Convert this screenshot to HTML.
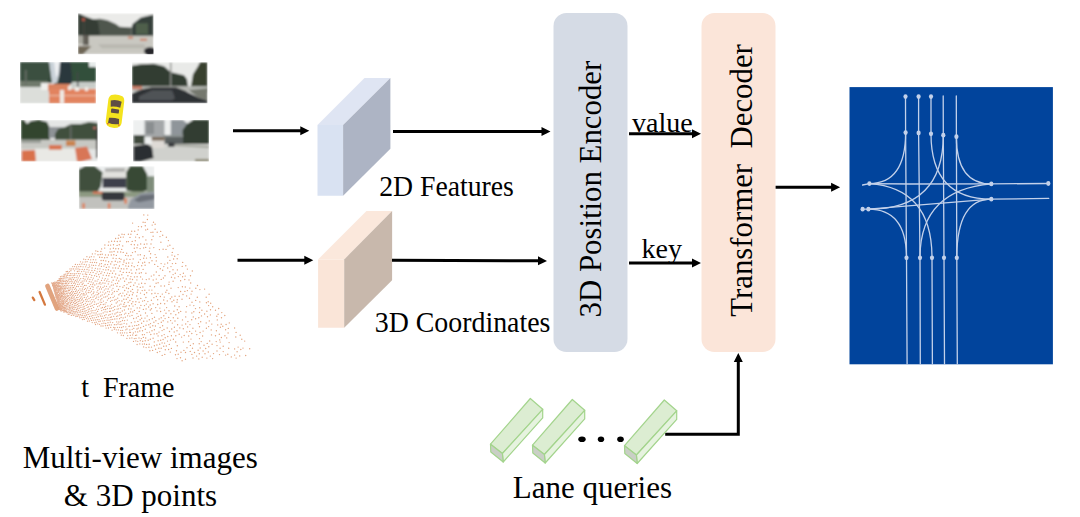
<!DOCTYPE html>
<html><head><meta charset="utf-8">
<style>
html,body{margin:0;padding:0;background:#fff;width:1080px;height:517px;overflow:hidden}
svg{position:absolute;left:0;top:0}
text{font-family:"Liberation Serif",serif;fill:#000}
</style></head><body>
<svg width="1080" height="517" viewBox="0 0 1080 517">
<defs>
<marker id="ah" viewBox="0 0 10 10" refX="9.3" refY="5" markerWidth="3.25" markerHeight="3.25" orient="auto" markerUnits="strokeWidth">
<path d="M0 0L10 5L0 10z" fill="#000"/></marker>
</defs>
<!-- photos -->
<g id="photos">
<filter id="bl" x="-5%" y="-5%" width="110%" height="110%"><feGaussianBlur stdDeviation="0.9"/></filter>
<clipPath id="c1"><rect width="75.5" height="41"/></clipPath>
<clipPath id="c2"><rect width="76" height="41.5"/></clipPath>
<clipPath id="c4"><rect width="76.7" height="41.5"/></clipPath>
<clipPath id="c6"><rect width="75.6" height="42.8"/></clipPath>
<!-- photo 1 top -->
<g transform="translate(78 13.2)" clip-path="url(#c1)"><g filter="url(#bl)">
<rect width="75.5" height="41" fill="#ebebe9"/>
<polygon points="0,0 7.2,3.2 14.7,6 22,5.6 29.5,7 37.9,10.7 41.6,13.5 53.6,14.4 53.6,23 0,23" fill="#50564e"/>
<polygon points="0,0 7.2,3.2 14.7,6 20,8 22,22 0,23" fill="#353d35"/>
<polygon points="53.6,14.4 54.6,10.7 62.9,4.2 75.5,1.4 75.5,24 53.6,24" fill="#34403a"/>
<rect x="58" y="10" width="12" height="11" fill="#66785a" opacity="0.55"/>
<rect x="0" y="22.5" width="75.5" height="18.5" fill="#c9c8c1"/>
<rect x="0" y="22.5" width="10" height="8" fill="#a8a79f"/>
<polygon points="0,33 13.5,33 5,41 0,41" fill="#6e6656"/>
<rect x="5.2" y="6" width="1.6" height="26" fill="#45443e"/>
<circle cx="5.5" cy="6.5" r="1.4" fill="#d05848"/>
<rect x="7.5" y="22" width="3" height="10" fill="#4e4840"/>
<rect x="50" y="23.5" width="5" height="2" fill="#d07050" opacity="0.8"/>
<rect x="62" y="25.5" width="7" height="2" fill="#d07050" opacity="0.8"/>
<ellipse cx="72" cy="38" rx="6" ry="4" fill="#25282b"/>
<polygon points="20,31 66,31 68,35 24,35" fill="#b9b8b1"/>
</g></g>
<!-- photo 2 left upper -->
<g transform="translate(20 62)" clip-path="url(#c2)"><g filter="url(#bl)">
<rect width="76" height="41.5" fill="#dcdeda"/>
<rect width="76" height="22" fill="#35493a"/>
<polygon points="0,0 28,0 30,14 26,20 0,22" fill="#3a5040"/>
<polygon points="29,0 40,0 41,6 37,21 32,21" fill="#c9d1d8"/>
<polygon points="34,0 40,0 38,12 36,16" fill="#eef0f2"/>
<polygon points="40,0 50,0 53,22 39,22" fill="#2c383e"/>
<polygon points="52,0 70,0 76,0 76,23 52,23" fill="#33503a"/>
<rect x="69" y="0" width="7" height="5" fill="#e6ebea"/>
<rect x="0" y="19" width="28" height="6" fill="#6f7a6c"/>
<rect x="5" y="8" width="1.5" height="15" fill="#6a7068"/>
<rect x="52" y="20" width="24" height="6" fill="#c8ccc8"/>
<rect x="21" y="21" width="13" height="7" fill="#efefec"/>
<rect x="28" y="22" width="22" height="7" fill="#d9825e"/>
<rect x="29" y="27" width="47" height="14.5" fill="#e2835e"/>
<rect x="29" y="33" width="47" height="1.2" fill="#ecb8a0"/>
<rect x="40" y="28" width="4" height="13.5" fill="#eeeae4"/>
<rect x="48" y="24" width="3" height="4" fill="#f0ece6"/>
<rect x="55" y="25" width="4" height="4" fill="#f0ece6"/>
<rect x="65" y="25" width="3" height="4" fill="#f0ece6"/>
<rect x="57" y="10" width="1.4" height="15" fill="#44484a"/>
</g></g>
<!-- photo 3 right upper -->
<g transform="translate(132 62.2)" clip-path="url(#c1)"><g filter="url(#bl)">
<rect width="75.5" height="41" fill="#e9eae8"/>
<polygon points="0,3.5 9,2 22,1.5 32,4 39,10 52,13 55,17 56,25 0,25" fill="#333c33"/>
<polygon points="59,24 61,12 66,4 68,0 75.5,0 75.5,30 59,30" fill="#37412f"/>
<rect x="38" y="0" width="1.4" height="25" fill="#8a8c88"/>
<rect x="0" y="24" width="75.5" height="5" fill="#b5b7b2"/>
<rect x="0" y="24" width="10" height="3" fill="#d06a50" opacity="0.8"/>
<polygon points="0,31 10,27 20,25 44,25 54,29 66,35 75.5,38 75.5,41 0,41" fill="#2f3134"/>
<polygon points="7,34 20,28 40,28 43,36 40,38 7,38" fill="#505356"/>
<polygon points="56,28 75.5,26 75.5,38 66,35" fill="#75786e"/>
</g></g>
<!-- photo 4 left lower -->
<g transform="translate(21 120)" clip-path="url(#c4)"><g filter="url(#bl)">
<rect width="76.7" height="41.5" fill="#e4e6e5"/>
<polygon points="0,0 3,0 6,4 10,1 18,0 26,2 29,8 29,20 0,21" fill="#33452f"/>
<rect x="28" y="7" width="14" height="11" fill="#8e9396"/>
<polygon points="34,14 37,9 44,7 50,4 60,4 68,2 76.7,3 76.7,24 34,22" fill="#3f4f3d"/>
<rect x="49" y="4" width="1.4" height="20" fill="#6a6e6a"/>
<rect x="0" y="19.7" width="76.7" height="9.5" fill="#c7c8c3"/>
<rect x="0" y="20" width="20" height="3" fill="#9a9e98"/>
<rect x="14" y="28.5" width="44" height="13" fill="#e9e9e5"/>
<polygon points="0.7,30.6 14,30 15,41.5 0.7,41.5" fill="#d9714c"/>
<rect x="28" y="25" width="12.7" height="4.7" fill="#d8734f"/>
<rect x="45" y="20.6" width="9.4" height="5.4" fill="#c98450"/>
<polygon points="54,28 66,26.5 71,39 60,41.5 56,41.5" fill="#d87656"/>
<rect x="75" y="8" width="1.7" height="30" fill="#3a3a3a"/>
<circle cx="73.5" cy="8" r="1.2" fill="#d8706a"/>
</g></g>
<!-- photo 5 right lower -->
<g transform="translate(133 120)" clip-path="url(#c2)"><g filter="url(#bl)">
<rect width="76" height="41.5" fill="#eef0f0"/>
<rect x="11.5" y="0" width="20" height="17" fill="#a4a7a9"/>
<rect x="13" y="2" width="8" height="12" fill="#8a8e90"/>
<polygon points="37.8,0 50,0 56,5 57,17 37.8,17" fill="#8f959a"/>
<polygon points="49.6,10 54,4 60,0 76,0 76,24 49.6,24" fill="#303d30"/>
<rect x="30" y="15" width="20" height="3" fill="#8a9090"/>
<rect x="0.5" y="15" width="11" height="9" fill="#3f4a3e"/>
<rect x="30" y="17" width="20" height="7" fill="#5a6060"/>
<rect x="0" y="24" width="76" height="17.5" fill="#d0d1cd"/>
<polygon points="40,24 76,26 76,28 42,26" fill="#a0a39a"/>
<rect x="18.7" y="17" width="12.8" height="11" fill="#dedad6"/>
<rect x="18.7" y="17" width="12.8" height="3.5" fill="#7a6a5a"/>
<rect x="35" y="22.5" width="6.5" height="4.5" rx="1" fill="#3a3c40"/>
<polygon points="0.5,26 14,24 19,27 20.5,38 8,41.5 0.5,41.5" fill="#2b2f33"/>
<rect x="62" y="39" width="14" height="2.5" fill="#8a8670"/>
</g></g>
<!-- photo 6 bottom -->
<g transform="translate(78.9 166.2)" clip-path="url(#c6)"><g filter="url(#bl)">
<rect width="75.6" height="42.8" fill="#eceeee"/>
<polygon points="22.8,12.6 25,5 34,1 49.2,1 49.2,12.6" fill="#e2e2de"/>
<rect x="26" y="2" width="20" height="3.5" fill="#7a7a7a" opacity="0.5"/>
<rect x="23.7" y="11.7" width="23.7" height="10" fill="#3d414b"/>
<polygon points="0,3 6,0 16,0 23.7,6 22,20 16,30.8 0,30.8" fill="#3f4f3c"/>
<polygon points="47.4,6 51,0 64,0 68.3,8 68.3,24 60,27.2 47.4,24" fill="#394a35"/>
<rect x="68" y="10" width="7.6" height="16" fill="#7e8c7a"/>
<rect x="0" y="25.3" width="75.6" height="5.5" fill="#8d9a82"/>
<rect x="14" y="25.5" width="10" height="2" fill="#e07050"/>
<rect x="0" y="30.8" width="75.6" height="12" fill="#c1c1bd"/>
<rect x="22.8" y="25.8" width="22.8" height="8.6" rx="2.5" fill="#34373c"/>
<polygon points="49.2,40 52,33 62,27 75.6,25.3 75.6,42.8 49.2,42.8" fill="#9399a1"/>
<polygon points="55,34 62,29 75.6,28 75.6,33 60,36" fill="#6a7078"/>
<rect x="3.5" y="37" width="2.4" height="5.5" fill="#e07a50"/>
<rect x="29" y="37" width="2.4" height="5.5" fill="#e07a50"/>
<rect x="45.5" y="32" width="2.4" height="5.5" fill="#e07a50"/>
</g></g>
<!-- car -->
<g transform="rotate(7 115 111)">
<path d="M109.5 95.5Q115 93.5 120.5 95.5Q123 97 123 101V122Q123 127.5 115 128Q107 127.5 107 122V101Q107 97 109.5 95.5z" fill="#f4e31e"/>
<path d="M109.5 101Q115 99 120.5 101L119.8 107.2Q115 106 110.2 107.2z" fill="#5e4d45"/>
<rect x="111" y="109" width="8" height="4.2" rx="0.8" fill="#5e4d45"/>
<path d="M110 118.5Q115 117.5 120 118.5L120.5 123.5Q115 125 109.5 123.5z" fill="#5e4d45"/>
<circle cx="109.5" cy="124.5" r="0.7" fill="#d84030"/><circle cx="120.5" cy="124.5" r="0.7" fill="#d84030"/>
</g>
</g>
<g><path d="M32.8 297.6l1.5 2.5M39.6 292l5.3 12.6" stroke="#d06a2a" stroke-width="2.3" stroke-linecap="round" opacity="0.9"/><path d="M47.5 286l9.5 22.5" stroke="#dc9468" stroke-width="4.6" stroke-linecap="round" opacity="0.85"/><path d="M51.8 283h0M52.5 284.2h0M52.6 285.5h0M53.1 286.4h0M53.6 287.8h0M53.7 288.8h0M54 290.1h0M54.4 291.3h0M54.9 292.4h0M55 293.7h0M55.5 295h0M55.7 296.1h0M56 297.4h0M56.7 298.6h0M56.9 299.6h0M57.2 300.7h0M57.5 302.2h0M58 303.2h0M58.2 304.7h0M58.9 305.8h0M59.1 306.8h0M59.5 308.1h0M59.6 309.4h0M52.4 283.4h0M52.7 284.7h0M53 285.7h0M53.5 286.9h0M53.9 288.1h0M54.3 289.3h0M54.6 290.6h0M55.1 291.8h0M55.1 293.1h0M55.7 294.2h0M55.9 295.4h0M56.3 296.7h0M56.8 297.7h0M57.1 299h0M57.4 300.3h0M57.7 301.6h0M58.1 302.8h0M58.4 304h0M58.7 305.1h0M59.3 306.3h0M59.7 307.6h0M60 308.9h0M60.4 310h0M53 283.7h0M53.5 285.2h0M53.7 286.5h0M54.1 287.6h0M54.4 288.7h0M55.2 289.8h0M55.3 291.1h0M55.7 292.5h0M56 293.5h0M56.4 294.8h0M57.1 296.2h0M57.3 297.5h0M57.5 298.5h0M57.9 299.8h0M58.5 301.3h0M58.6 302.6h0M59 303.5h0M59.5 304.8h0M59.8 306h0M60.2 307h0M60.7 308.4h0M60.8 309.7h0M61.1 311h0M53.4 282.8h0M54.1 284.2h0M54.4 285.4h0M54.6 286.7h0M55.4 287.9h0M55.6 289.2h0M55.6 290.5h0M56 291.6h0M56.6 292.8h0M57 294.3h0M57.4 295.4h0M58 296.8h0M58.2 297.9h0M58.7 299.3h0M58.8 300.6h0M59.3 301.8h0M59.8 303.2h0M60.3 304.4h0M60.5 305.7h0M61 307h0M61.1 308.3h0M61.8 309.2h0M62.2 310.6h0M54.4 283.2h0M54.7 284.6h0M55.3 285.8h0M55.5 287.1h0M56 288.4h0M56.4 289.5h0M56.8 290.8h0M57.3 292.4h0M57.5 293.7h0M58.3 294.8h0M58.5 296.2h0M58.9 297.6h0M59.4 298.6h0M59.6 300h0M60 301.4h0M60.4 302.9h0M61.1 304h0M61.5 305.2h0M61.8 306.4h0M62.2 307.8h0M62.8 308.9h0M63.3 310.4h0M63.6 311.9h0M54.8 282.1h0M55.3 283.4h0M55.7 284.9h0M56.2 286h0M56.7 287.5h0M57.1 288.9h0M57.7 290.1h0M58.1 291.5h0M58.2 292.5h0M59 294.4h0M59.4 295.5h0M59.9 296.8h0M60.3 298.2h0M60.6 299.5h0M61.1 301.1h0M61.7 302.3h0M62.1 303.4h0M62.6 304.8h0M62.8 306.2h0M63.5 307.5h0M64 309h0M64.3 310.2h0M64.7 311.7h0M56.1 282.3h0M56.7 284h0M56.9 285.3h0M57.6 286.4h0M57.9 287.9h0M58.6 289.3h0M58.7 290.7h0M59.1 292.1h0M59.7 293.5h0M60.4 294.9h0M61 296.3h0M61 297.5h0M61.8 298.9h0M62 300.4h0M62.6 301.7h0M63.1 303.3h0M63.4 304.6h0M64.2 305.9h0M64.5 307.5h0M65 308.7h0M65.3 310.2h0M65.9 311.5h0M66.4 312.6h0M56.9 282.3h0M57.5 283.8h0M58.1 285.4h0M58.3 286.7h0M59.3 288.2h0M59.4 289.6h0M59.9 290.8h0M60.6 292h0M61.1 293.8h0M61.6 295.2h0M62 296.6h0M62.8 298h0M62.9 299.9h0M63.6 301h0M63.8 302.5h0M64.3 303.8h0M65.1 305.4h0M65.8 307h0M66 308.2h0M66.7 309.7h0M66.9 311.3h0M67.6 312.6h0M68.2 314.2h0M57.5 280.7h0M58.2 282.4h0M58.6 283.6h0M58.7 285h0M59.4 286.4h0M60.3 288h0M60.6 289.3h0M61.1 290.8h0M61.7 292.5h0M62.3 293.6h0M62.4 295.3h0M63.2 296.7h0M63.8 298.1h0M64.5 299.4h0M64.8 301h0M65.5 302.2h0M66.1 303.8h0M66.3 305.3h0M66.9 306.6h0M67.5 308.1h0M68.2 309.4h0M68.6 311.1h0M69.2 312.6h0M69.3 314.1h0M58.6 280.5h0M59.4 282.2h0M59.7 283.6h0M60.1 285.4h0M60.7 286.8h0M61.3 288h0M62 289.3h0M62.9 291.2h0M63.3 292.7h0M63.5 294.2h0M64.3 295.9h0M64.9 297.2h0M65.6 298.5h0M66.2 300.3h0M66.5 301.4h0M67.4 303.2h0M67.6 304.7h0M68.2 306.1h0M69.1 307.7h0M69.6 309h0M69.9 310.8h0M70.4 312.3h0M70.9 313.5h0M71.4 315.4h0M59.2 278.8h0M59.7 280.3h0M60.5 281.8h0M61 283.5h0M61.8 284.9h0M62 286.7h0M62.8 288.2h0M63.6 290h0M63.9 291.5h0M64.7 293.3h0M65.1 294.5h0M65.9 296.3h0M66.5 297.6h0M67.4 299.4h0M67.7 300.9h0M68.5 302.8h0M68.9 304.1h0M69.6 305.7h0M70.1 307.3h0M70.7 308.9h0M71.7 310.5h0M72 311.9h0M72.6 313.7h0M73.4 315.3h0M60.3 278.8h0M60.8 280.3h0M61.7 281.9h0M62.4 283.4h0M62.8 285h0M63.5 286.7h0M64.3 288.5h0M64.9 290.1h0M65.5 291.6h0M66.4 293.6h0M67.2 295.3h0M67.6 296.6h0M68.3 298.4h0M69.4 299.9h0M69.8 301.9h0M70.5 303.5h0M70.9 305.1h0M71.8 307h0M72.4 308.3h0M73 309.9h0M73.5 311.7h0M74.4 313.1h0M75 314.9h0M75.8 316.6h0M60.5 276.7h0M61.5 278.5h0M62.3 280.1h0M63.1 281.6h0M63.8 283.6h0M64.5 285.4h0M65 287h0M65.6 288.7h0M66.5 290.9h0M67.1 291.9h0M67.8 293.6h0M68.6 295.7h0M69.5 297.4h0M70.1 299h0M71.1 300.8h0M71.4 302.4h0M72.4 304.4h0M73 306.1h0M73.9 307.4h0M74.2 309.3h0M75.1 311.5h0M75.8 312.9h0M76.9 314.9h0M77.3 316.4h0M62 276.3h0M63 278.2h0M63.3 280.1h0M64.1 281.5h0M65.4 283.5h0M66.1 285.3h0M66.1 287h0M67.3 288.5h0M68.3 290.4h0M68.8 292.1h0M69.7 293.7h0M70.3 295.6h0M71.4 297.2h0M71.8 298.8h0M72.4 300.7h0M73.4 302.4h0M74.2 303.8h0M74.7 305.8h0M75.5 307.6h0M76.4 309.5h0M76.8 311.2h0M77.7 312.8h0M78.5 314.7h0M79.3 316.1h0M79.9 317.8h0M63.6 276.3h0M64.2 278h0M65.1 280.1h0M65.7 281.8h0M66.7 283.2h0M67.5 285.2h0M68.3 287.1h0M69 288.9h0M69.5 290.4h0M70.6 292.7h0M71.4 294.5h0M72.5 295.9h0M73.1 298h0M74 299.7h0M74.8 301.5h0M75.6 303.4h0M76.1 305.3h0M77.2 306.9h0M77.7 308.7h0M78.5 310.5h0M79.5 312.1h0M80.3 314.4h0M81.1 315.6h0M81.8 317.5h0M82.5 319.6h0" stroke="#d98a60" stroke-width="1.4" stroke-linecap="round" opacity="0.7"/>
<path d="M64.1 274.3h0M64.7 276h0M65.9 277.9h0M66.6 280.3h0M67.5 281.7h0M68.7 283.5h0M69.1 285.6h0M70.2 287.5h0M70.8 289.1h0M71.6 291.4h0M72.5 293h0M73.3 295h0M74.3 296.9h0M75 298.9h0M75.8 300.4h0M76.7 302.4h0M77.6 304.4h0M78.5 306h0M79.3 308.2h0M80.4 310.1h0M80.9 312h0M82.3 313.8h0M82.7 315.6h0M83.6 317.5h0M84.3 319.4h0M65.4 274.1h0M66.4 276h0M67.2 277.7h0M68.3 280h0M69.3 281.8h0M71 285.7h0M72.2 287.8h0M72.5 289.8h0M73.5 291.7h0M74.6 293.5h0M75.4 295.3h0M76.6 297.5h0M77.3 299.5h0M78.2 301.4h0M78.9 303.3h0M80 305.7h0M80.9 307.4h0M82.2 309.5h0M82.7 311.4h0M83.8 313.2h0M84.8 315.4h0M85.2 316.9h0M86.5 318.6h0M87.5 321.2h0M66.2 271.7h0M67.2 273.9h0M67.8 275.4h0M69.1 278h0M70 279.5h0M70.9 281.6h0M71.4 283.3h0M72.5 285.5h0M73.5 287.5h0M74.5 289.3h0M75.5 291.4h0M76.1 293.4h0M77.4 295.3h0M78.1 297.3h0M79.2 299.5h0M79.9 301h0M80.9 303.2h0M81.7 305.1h0M83 307.1h0M83.7 309.1h0M84.8 311.2h0M85.5 313.1h0M86.5 315h0M87.4 317.1h0M88.4 318.9h0M89.3 321h0M67.4 271.5h0M68.3 273.2h0M69.7 275.6h0M70.8 278.1h0M71.6 279.9h0M72.3 281.8h0M73.8 283.4h0M74.5 285.7h0M75.5 288.2h0M76.5 289.9h0M77.3 292h0M78.2 294.2h0M79.7 296.1h0M80.5 298.2h0M81.7 300h0M82.4 302.4h0M83.5 304.5h0M84.2 306.3h0M84.9 308.5h0M86.2 310.6h0M87.3 312.6h0M88.2 314.4h0M89.5 316.5h0M90.5 318.7h0M91.5 320.4h0M92.2 322.6h0M69.3 271.7h0M70.4 273.7h0M71 275.6h0M72.3 277.7h0M73.5 279.5h0M74.4 282h0M75.5 283.9h0M76.6 286.5h0M78.5 290.3h0M79.6 292.5h0M80.6 294.8h0M81.8 296.9h0M82.5 298.8h0M83.6 301h0M85.3 303.3h0M86.2 305.4h0M87.2 307.3h0M88.1 309.8h0M88.8 311.7h0M90.1 313.8h0M91.3 316.1h0M92.4 317.9h0M93.4 320.2h0M94.7 322.7h0M95.5 324.5h0M70 268.9h0M70.9 270.7h0M72.1 273.7h0M73.2 275.7h0M74.3 277.7h0M75.4 280.3h0M76.4 281.8h0M77.7 284.4h0M78.3 286.5h0M79.9 288.9h0M81 290.8h0M81.8 293.6h0M83.1 295h0M84.3 297.4h0M85.6 299.7h0M86.3 301.6h0M87.6 304.5h0M88.6 306.8h0M89.3 309h0M91.1 310.9h0M91.9 312.8h0M92.9 315.4h0M94.2 317.8h0M95.4 319.9h0M96.3 322.2h0M97.7 323.9h0M71.8 268.9h0M74.2 273.7h0M74.7 275.2h0M76.2 277.6h0M77.2 279.9h0M78.2 282h0M79.5 284.1h0M80.9 286.4h0M82.3 289h0M82.8 291.1h0M83.8 293.5h0M84.9 295h0M86.4 297.8h0M87.2 299.8h0M88.2 301.6h0M89.8 304.2h0M90.6 306.3h0M91.4 308.6h0M92.9 310.6h0M94 312.9h0M95.1 315.1h0M96.4 317.3h0M97.3 319.7h0M98.9 321.5h0M99.6 324.3h0M101 326h0M72.7 266.6h0M73.6 268.9h0M74.5 270.8h0M76.2 273.6h0M77.3 275.8h0M78.2 277.9h0M79.6 280.1h0M81 282.5h0M82.2 284.5h0M83.2 287h0M84.4 289.4h0M85.8 292h0M86.5 293.9h0M87.7 296.2h0M89 298.5h0M90.1 301.1h0M91.3 303.1h0M92.2 305.7h0M93.6 307.3h0M95.1 310.3h0M96.1 313h0M97.2 314.8h0M98.3 316.7h0M99.1 319.6h0M100.4 321.1h0M101.9 323.6h0M103 326h0M74.6 266.6h0M76 269h0M77.4 271.5h0M78.4 273.6h0M79.5 275.9h0M80.7 278.6h0M82.2 281.1h0M83.1 283.2h0M84.5 285.4h0M85.5 288.3h0M86.6 290.1h0M88.3 292.5h0M90.6 297.4h0M91.8 299.6h0M92.6 301.8h0M94.2 304.4h0M96.5 309.1h0M97.6 311.4h0M99.1 314.1h0M100.4 316h0M101.6 318.5h0M102.8 320.9h0M103.9 323.2h0M105.5 325.7h0M106.1 328.1h0M75.4 264.4h0M76.6 266.9h0M78 268.9h0M79 271.2h0M80.1 273.7h0M83.2 278.5h0M84.1 280.9h0M86.1 285.5h0M87.6 287.9h0M89 290.4h0M90.1 292.6h0M91.7 294.8h0M93 297.2h0M93.8 299.8h0M94.7 301.9h0M96.4 304.2h0M97.6 306.6h0M98.5 309.3h0M101.1 313.8h0M102.2 316.2h0M103.7 318.2h0M104.6 320.6h0M105.7 323.5h0M107.5 325.5h0M108.5 328h0M77.6 264.6h0M78.8 266.7h0M79.8 269.3h0M81.6 271.6h0M82.8 274.2h0M83.9 276.4h0M85.1 279.2h0M86.4 281h0M88.2 283.4h0M89.3 286.3h0M90.4 288.5h0M91.4 291.2h0M93.2 293.5h0M94.3 295.9h0M95.8 298.4h0M98.1 303.3h0M99.3 305.8h0M101.1 308.1h0M101.7 310.6h0M103.2 312.9h0M104.6 315.7h0M105.7 317.6h0M107 320.2h0M108 322.7h0M109.3 325h0M110.7 327.4h0M112.1 330.2h0M79.7 264.3h0M80.8 266.5h0M82.2 269.4h0M83.9 271.2h0M85.3 274h0M86.2 276.7h0M87.7 279h0M89.3 281.6h0M90.6 284.6h0M92 286.6h0M93 289.4h0M93.9 292h0M96 294.8h0M96.7 297.1h0M98.2 299.7h0M100.1 302.1h0M100.7 304.5h0M102.5 307.5h0M103.8 309.5h0M105 311.8h0M106.1 314.7h0M107.8 317.9h0M109 320.2h0M110.3 322.2h0M111.3 324.9h0M113.6 327.3h0M114.4 329.2h0M80.5 261.8h0M81.9 264h0M83.1 266.8h0M84.5 269.3h0M85.9 272.1h0M86.7 274.5h0M88.4 277.1h0M89.9 279.5h0M91.2 281.9h0M92.7 284.6h0M93.2 287.1h0M97 292.2h0M97.8 294.7h0M98.8 297.1h0M100.7 299.9h0M101.7 302.3h0M103.3 304.5h0M104.6 307.4h0M105.7 309.5h0M107.1 312h0M108.7 315.2h0M110.2 317.3h0M111 319.7h0M112.7 322.6h0M114.4 324.7h0M115 327.7h0M116.3 329.8h0M117.5 332.8h0M82.8 262.1h0M84.2 264.4h0M85.7 266.8h0M87 269.5h0M88.1 272.1h0M89.7 274.4h0M91.1 277.3h0M92.5 279.8h0M93.2 283h0M94.8 285h0M96.9 287.9h0M97.8 290.3h0M98.7 293.5h0M100.7 296h0M101.8 298.7h0M103.4 301.1h0M105 304.1h0M105.7 306.4h0M107.4 308.6h0M109.5 311.4h0M110.1 314.4h0M111.4 316.9h0M112.7 319.3h0M116.2 324.7h0M117.5 327.3h0M118.4 329.9h0M120.4 332.9h0M121.3 335.2h0M83.7 259.2h0M85.3 261.9h0M86.4 264.9h0M88.1 267.6h0M89 270.1h0M90.5 272.6h0M91.8 275.4h0M93.4 278.1h0M95.1 281h0M96.7 283.8h0M98.1 286.5h0M99.4 289h0M100.4 292.1h0M102.2 294.9h0M103.8 297.2h0M106.1 302.6h0M107.9 305.9h0M109.8 308.5h0M110.5 311.2h0M112.3 313.8h0M113.7 316.3h0M114.8 319h0M116.7 321.9h0M118 324h0M119.6 327.3h0M120.8 330.4h0M122.4 332.9h0M123.4 335.5h0M85.7 259.6h0M87.1 261.7h0M89.2 264.9h0M89.7 266.8h0M91.9 270.5h0M93.1 272.4h0M94.6 275.7h0M97.1 281.1h0M99.1 283.7h0M100.5 287h0M101.5 289h0M102.9 292.1h0M104.4 294.1h0M105.6 296.9h0M107.4 300.1h0M110.3 305.9h0M111.5 308.2h0M113 310.7h0M114.9 314h0M116.5 316.3h0M117 318.8h0M118.9 322h0M120.1 324.5h0M121.6 327.5h0M122.6 330.3h0M124.6 332.8h0M126.9 338.4h0M86.9 256.7h0M88.3 259.4h0M90.3 262.3h0M91.7 265.1h0M92.1 268h0M94.7 270.4h0M96 273.7h0M96.7 276.4h0M98.1 279.3h0M100 282.5h0M101 284.1h0M103 287.4h0M104.3 290.1h0M105.7 292.9h0M107.2 296.1h0M108.7 298.5h0M110.5 301.3h0M111.7 304.3h0M113.2 307.3h0M114.6 309.6h0M116.2 312.8h0M117.8 315.9h0M119.6 318.7h0M120.7 321.6h0M121.8 324.1h0M123.3 326.7h0M125.8 329.8h0M126.9 332.9h0M127.7 335.7h0M129.7 338.2h0M89.5 257.2h0M90.7 259.8h0M92.3 262.5h0M93.5 265.4h0M95.4 268.3h0M97.2 271.8h0M98.7 274.5h0M99.5 276.9h0M101.5 280.4h0M102.9 283h0M104.4 286.1h0M105.9 288.8h0M107.7 291.6h0M108.8 294.5h0M110.5 297.7h0M112 300.4h0M114.8 306.4h0M117.1 309.1h0M117.7 312.2h0M119.8 315h0M121.1 317.4h0M122.5 320.5h0M124.1 323.3h0M125.8 326.8h0M127 329h0M129.7 332.4h0M130.4 335.3h0M131.9 337.9h0M133.5 341.4h0M91.3 256.7h0M93.3 259.7h0M94.6 262.4h0M95.8 265.3h0M97.7 268.9h0M99.5 271.3h0M100.9 273.5h0M102.4 278.1h0M104.4 280.2h0M105 283.2h0M106.5 286.3h0M108.2 289h0M109.5 291.8h0M111.8 294.3h0M113.1 297.4h0M114.4 300.1h0M116.2 303h0M117.7 306.1h0M118.6 308.8h0M120.1 312.4h0M121.4 314.7h0M123.2 317.9h0M124.6 320.6h0M126.7 323.9h0M128.9 326.3h0M129.8 329.9h0M130.5 332.3h0M132.7 335h0M134.3 338.6h0M135.8 340.9h0M137.1 344.5h0M92.4 253.9h0M94 256.8h0M95.8 259.8h0M96.6 262.7h0M98.9 265.7h0M100 268.8h0M101.9 271.8h0M103.2 275.2h0M105.3 278.6h0M106.8 281h0M108.3 283.9h0M109.9 286.9h0M111.9 290.1h0M112.7 292.9h0M114.5 296.1h0M116 299.5h0M117.5 301.8h0M119.4 305.1h0M120.6 308.3h0M122.3 311h0M124.5 314.1h0M125.4 317.2h0M127.3 320.1h0M129.7 326.2h0M132.2 329.3h0M133.3 333h0M135.5 335.4h0M136 338.4h0M137.8 341.3h0M139.8 343.9h0M95.1 253.8h0M99.7 264h0M101.4 266.4h0M103.2 269.6h0M104.5 272.6h0M106.4 275.5h0M107.9 279.1h0M109 281.6h0M111.3 285.2h0M113 288.3h0M114.4 291.5h0M117.7 298.2h0M119.2 300.6h0M120.9 304.2h0M123.1 306.5h0M124.4 310h0M125.8 313.2h0M127.6 315.8h0M131.3 322.7h0M132.4 326.1h0M133.8 328.4h0M135.4 331.8h0M136.7 335.1h0M139 338h0M140.3 340.7h0M142.4 344.1h0M143.6 346.9h0" stroke="#d98658" stroke-width="1.3" stroke-linecap="round" opacity="0.75"/>
<path d="M95.8 250.9h0M98 254.7h0M99.6 257.2h0M101.1 260.5h0M101.5 263.6h0M103.9 266.1h0M105.8 269.9h0M107.5 273.1h0M108.8 275.7h0M111.8 282.1h0M113.3 285h0M117 291.4h0M118.9 294.7h0M121.9 301h0M123.9 304.2h0M125 306.7h0M128.7 313.6h0M129.8 316.1h0M134.7 325.6h0M137 329h0M137.7 331.9h0M141.3 338.6h0M142.7 341.3h0M144.4 344h0M146.1 347.6h0M97.8 251.4h0M100.3 254.5h0M102 257.4h0M103.4 260.5h0M105.1 264.5h0M106.4 267.4h0M108.3 269.8h0M109.6 273.6h0M111.9 277.2h0M113.2 280.2h0M115.4 283.6h0M116.9 286.3h0M118.5 289.5h0M120.2 293.4h0M121.7 295.9h0M123.8 299.2h0M124.6 302.6h0M126.3 305.9h0M128.5 309h0M130.5 311.9h0M132 315.4h0M133.6 318.5h0M134.9 321.9h0M136.8 325.4h0M138.3 328.1h0M139.8 331h0M142.4 334.7h0M143.4 337.4h0M145.2 340.8h0M146.6 344.4h0M148.9 347.2h0M149.9 350.7h0M100.9 251.5h0M102.2 254.3h0M104.6 257.8h0M105.8 260.9h0M107.6 264.6h0M109 266.9h0M110.8 271h0M112.5 273.3h0M114.7 276.9h0M116.4 280.1h0M117.5 283.3h0M119.9 286.6h0M122.9 293.1h0M124.7 295.8h0M126.3 299.2h0M128.1 302.3h0M129.3 305.7h0M131 308.9h0M132.7 311.9h0M136.4 317.9h0M137.9 321.4h0M138.7 324.8h0M140.7 327.8h0M142.5 330.8h0M144.4 334.6h0M145.7 338h0M148.2 340.2h0M149.2 344.2h0M151.5 347.1h0M152.6 350.4h0M101.6 248.9h0M105.5 254.9h0M107.1 257.5h0M108.6 261.7h0M110.7 264h0M112.9 267.9h0M114 270.9h0M115.7 274h0M117.4 278h0M118.8 281h0M122.9 287.2h0M124.7 290.5h0M126.7 294.2h0M128 297.5h0M129.9 300.5h0M131.7 303.7h0M133 306.1h0M134.4 310.4h0M137 313.6h0M138.2 316.4h0M140.1 319.7h0M141.6 323.3h0M143.5 326.4h0M145.3 329.3h0M147 332.6h0M150.3 339.2h0M154.4 345.8h0M155.6 349.3h0M157.3 352.5h0M104.7 248.1h0M108.4 255h0M111.9 261.7h0M114.2 265h0M115.5 268h0M119.1 275.2h0M120.5 278.9h0M124.2 285.6h0M126.5 288h0M128 291.9h0M129.4 295.2h0M131.7 298.5h0M132.9 301.8h0M135.3 304.6h0M137.2 307.9h0M139.2 311.4h0M140.7 315.3h0M141.7 318.2h0M143.7 321.3h0M146 325.3h0M149.5 332.1h0M150.8 334.5h0M153.1 338.3h0M154.3 341.9h0M156.9 345h0M158.8 348.2h0M159.8 351.6h0M162.2 355.4h0M104.9 245h0M110 252h0M111.3 255h0M113.1 258.2h0M115.3 261.3h0M116.2 264.6h0M118.2 268.3h0M120.2 271.3h0M121.8 274.7h0M123.2 277.9h0M124.6 281.2h0M127 284.6h0M128.5 288.5h0M130.8 291.2h0M132.4 294.7h0M135.9 301.8h0M139.7 307.9h0M145 318.1h0M147 321.1h0M148.8 324.8h0M150.2 327.2h0M152 330.7h0M154.2 333.9h0M158.1 340.7h0M159.7 344.3h0M161.2 348.2h0M164.8 354.4h0M108.3 245.3h0M110.3 248.9h0M111.9 251.9h0M113.8 254.7h0M116.1 258.6h0M117.7 262.1h0M119.4 266h0M121.3 268.8h0M123.2 272.4h0M126.3 278.9h0M128.9 282.7h0M130.5 286.4h0M132.5 289.4h0M133.1 292.8h0M136.7 296h0M137.8 299h0M139.1 302.2h0M140.9 305.4h0M143.4 309.4h0M145.5 313h0M147.2 315.9h0M149.3 319.7h0M150.5 323.6h0M152.8 325.8h0M154.4 329.7h0M156.9 333.8h0M158.1 335.9h0M160.7 340.3h0M162.1 342.9h0M163.7 346.2h0M165.3 349.8h0M108.8 241.9h0M110.6 245.1h0M113.4 248.3h0M114.1 251.5h0M116.4 255.4h0M119.3 258.4h0M119.9 261.7h0M123 264.5h0M123.8 268.9h0M126.5 272.4h0M127.9 275.7h0M130.1 279h0M130.9 282.2h0M133.7 285.3h0M137.3 292.2h0M140.8 298.4h0M142.6 301.1h0M144.5 305.6h0M146.1 308.9h0M152.3 318.8h0M153.9 322.2h0M155.4 326h0M159 332.1h0M161.9 335.8h0M163.1 339.5h0M164.6 343.1h0M166.3 346h0M168.6 349.5h0M170.3 352.1h0M111.6 241.3h0M113.5 244.7h0M115.8 248.8h0M117.7 252h0M121 259.3h0M123.9 262h0M125.8 265.9h0M126.9 268.7h0M129.3 272.4h0M130.9 276.6h0M132.5 279.5h0M135.1 282.9h0M137.2 286.7h0M137.9 290h0M140.5 293.1h0M144.5 300.6h0M146.3 304.1h0M148.6 307h0M150.3 310h0M151.9 313.4h0M154.5 317.2h0M155.9 320.7h0M158.2 323.6h0M160.1 327.5h0M162.1 330.6h0M164.2 334.6h0M165.2 337.8h0M167.5 341.1h0M169.3 344.4h0M171.4 348.4h0M175.5 354.7h0M177 358.6h0M114.5 241.3h0M117.1 245.4h0M118.5 248.8h0M120.7 252h0M124.1 260.2h0M126.3 263.3h0M128.5 266.3h0M131.1 270h0M131.9 273.2h0M134.5 276.9h0M136.9 279.9h0M138.9 284.1h0M140.3 287.4h0M142.2 290.6h0M144.4 294.5h0M145.9 297.5h0M147.9 301.6h0M150.2 305h0M151.5 308.8h0M159.1 318.9h0M161.3 322.2h0M162.6 325.7h0M164 329.5h0M167.8 336.5h0M170.5 340.1h0M176.5 350.7h0M178.2 354.2h0M180.5 357.7h0M182.1 360.7h0M115.6 238.5h0M117.3 241.5h0M119.3 244.8h0M121.7 249.4h0M123.2 252.4h0M125.6 255.4h0M126.8 259.1h0M128.7 263h0M131.7 265.7h0M135.7 273h0M137.1 276.8h0M141.6 283.2h0M142.9 287h0M144.8 290.3h0M146.7 292.7h0M151.4 300.3h0M153.1 303.7h0M155.7 307.6h0M157 310.9h0M161.2 317.8h0M163.2 320.7h0M167.2 328h0M169.5 331.5h0M171.4 335.7h0M173.4 339.2h0M175.7 342h0M177.3 345.8h0M181 352.2h0M185.5 359.2h0M118.3 238.3h0M120.1 241.3h0M122.7 245.9h0M126.7 253.2h0M128.2 255.7h0M130 259.4h0M132.2 263.1h0M134.2 266.7h0M136.6 269.7h0M139.3 273.3h0M140.6 276.9h0M142.5 279.1h0M145 283.5h0M149.1 290.1h0M151.8 293.8h0M153.9 297.6h0M157.7 304.5h0M159.9 308.1h0M160.6 311.5h0M163.8 315.7h0M165.1 318.6h0M167.8 321.9h0M171.7 329h0M174.2 332h0M175.8 335.7h0M183.9 350.4h0M185.5 352.5h0M118.9 235.3h0M120.7 237.2h0M131 255.5h0M133.2 259h0M137.6 265.6h0M139.1 268.9h0M141.3 272.7h0M146.3 279.6h0M150.1 286.2h0M151.9 290.1h0M155 293.2h0M156.4 296.5h0M157.7 299.7h0M160.6 303.5h0M164.5 310.1h0M166 313.3h0M168.7 317.4h0M170.6 320.6h0M172.3 323.1h0M174.4 327.3h0M177 330.8h0M179.2 334.2h0M181.6 337.1h0M183.3 342.1h0M187 347.8h0M190.2 351.4h0M191.9 354.4h0M193 358h0M122 234.2h0M123.3 237.1h0M126.6 241.7h0M132.5 252.6h0M138.5 262.2h0M141.7 265.8h0M143.1 269.4h0M145.9 273.2h0M149.1 279h0M154.6 286.7h0M158 293.6h0M160.4 296.5h0M163.7 300h0M164.7 303.8h0M166.6 307.6h0M169 310.7h0M170.9 313.8h0M173.3 317.8h0M175 321h0M177.6 324.8h0M179.8 327.9h0M184.2 335.5h0M188.7 341.8h0M190.4 345.4h0M192.5 348.2h0M194.5 352.5h0M196.6 356.1h0M198.8 358.9h0M124.2 234.5h0M128.4 241.6h0M131.2 244.5h0M134.3 248.3h0M135.3 251.8h0M138 254.9h0M140.3 259.6h0M142.6 263h0M145.1 265.2h0M151.3 276.1h0M153.2 280h0M156.1 283.3h0M162.3 294.1h0M164.3 297.1h0M167.3 300.9h0M173.9 311.3h0M175.8 314.7h0M177.8 318.2h0M182.1 325.1h0M183.3 328.7h0M186.8 331.9h0M188.7 336h0M191 339.1h0M193.3 343.7h0M198.1 350.3h0M199.3 353.8h0M202.2 357.3h0M128.4 234.3h0M130 237.4h0M132.2 241.4h0M134.4 244.8h0M137 247.7h0M140.3 254.8h0M143.7 258.3h0M144.7 262.2h0M153.9 275h0M156.3 279.1h0M158.1 282.8h0M161 286h0M165.8 292.3h0M170.3 298.8h0M172 301.8h0M174.7 306h0M177.3 309.8h0M178.7 312.7h0M182.5 319.9h0M185.7 324h0M187.6 326.9h0M189.6 331.4h0M191.8 333.5h0M199.2 343.8h0M200.2 348h0M203.1 351h0M205 353.7h0M206.9 358.1h0M130.9 234.2h0M135.3 240.8h0M137.7 245h0M140.1 248.6h0M144.4 255.7h0M146.5 258.1h0M149.2 262.8h0M156.3 272h0M159.1 275.5h0M161.2 279.4h0M164.5 286h0M166.9 290.2h0M168.9 293.5h0M171.8 297h0M173.8 300.3h0M177 302.2h0M179.1 306.8h0M180.7 311.4h0M185.7 316.9h0M187.9 321.6h0M190 324.6h0M192.9 328.2h0M195.6 331.1h0M196.8 334.6h0M199.5 338.6h0M201.2 341.6h0M204 345.3h0M205.7 348.5h0M208.3 352h0M210.3 356.1h0M212.6 358.6h0M131.7 231.2h0M135.6 237.1h0M140.7 244h0M143.6 247.9h0M150.4 257.7h0M152 260.8h0M154.7 264.4h0M163.4 278h0M168.9 284.4h0M171 288.2h0M175 296.3h0M177.3 299.7h0M186 312h0M191.7 319.8h0M200.1 332.5h0M202.6 336h0M207.2 343.4h0M208.8 346.8h0M213.5 353.6h0M134.7 231.3h0M137.3 234.4h0M139.3 237.7h0M144.3 244.2h0M145.7 247.4h0M149.3 251.3h0M150.6 253.8h0M156.3 260.9h0M157.8 266.4h0M160.3 268.7h0M162.7 270.3h0M165 275.8h0M169.1 282.1h0M179.2 296.2h0M182 299.3h0M186.6 306.6h0M191.9 313h0M193.3 316.9h0M195.6 318.8h0M198.4 323.6h0M199.5 326.7h0M203.1 331.1h0M209.7 341h0M212.1 344.3h0M217 351h0M219.5 354.6h0M132.6 223.1h0M138.2 229.9h0M142.9 236.8h0M145.9 240h0M146.9 243.9h0M149.8 248.1h0M155.1 254.6h0M156.2 257.4h0M161.1 263.6h0M163.8 266.6h0M171.5 277.2h0M173.1 281.3h0M178.2 287.6h0M180.6 291.5h0M183 294.5h0M190 305.1h0M193.8 311.8h0M198.8 317.8h0M200.7 321.8h0M206.4 328.3h0M211.5 334.9h0M216.2 341.6h0M217 345.6h0M220.1 348.2h0M223.2 351.6h0M225.6 355.1h0M138.5 226.6h0M151 244h0M153.8 247.6h0M164.8 264.1h0M167.7 268h0M169.8 271.7h0M173.1 274.6h0M174.8 278h0M182.4 286.8h0M184.9 291.4h0M186.6 295.9h0M189.5 298.2h0M192 302.3h0M193.8 305.6h0M195.5 308.6h0M199.5 312.5h0M201.5 315.9h0M206.2 322.9h0M208.6 326.6h0M211.2 329.9h0M215.5 335.8h0M219.7 339.9h0M220.2 342.1h0M223.2 346.3h0M227.8 354.3h0M231.3 356.9h0M141.5 226.7h0M145.7 229.9h0M151.8 239.8h0M159.4 249.6h0M167.6 263h0M171 266.6h0M173 269.7h0M175.3 273.2h0M178.3 276.6h0M180.6 280.8h0M185.3 287h0M187.4 290.6h0M191.1 294.1h0M195.7 300.4h0M199.7 307.7h0M201.9 310.3h0M204.6 314h0M207.5 316.7h0M209.3 320.9h0M211.8 324.1h0M216.4 330.8h0M219.3 334.3h0M221.4 337.5h0M228.7 348.2h0M234.6 355.1h0M236.1 358.1h0M143.1 222.2h0M145.3 225.7h0M147.6 229.3h0M151 232.4h0M153.1 236.2h0M163.1 249.3h0M167.8 257h0M169.9 260.4h0M172.4 263.6h0M177.4 269.9h0M180.2 274.6h0M182.6 276.7h0M184.8 279.5h0M189.8 288.1h0M192 291.2h0M197.3 297.3h0M199.8 301.9h0M206.9 311.3h0M210.4 314.9h0M217.7 324.9h0M220.4 327.2h0M224.9 335.7h0M226.7 337.9h0M229.1 342.6h0M234.6 348.9h0M237.1 351.8h0M239.7 355.9h0M145.1 222.4h0M152.9 232.2h0M160.9 242.3h0M166 249.4h0M172 255.1h0M173.6 259h0M175.7 263.4h0M183.4 273.3h0M185.2 276.1h0M189 279.9h0M190.7 283h0M195.8 288.3h0M206.4 302.8h0M208.6 305.6h0M210.5 309.7h0M216.8 316.2h0M217.3 319.9h0M221.2 324.3h0M222.8 326.3h0M225.6 329.7h0M228.1 333h0M238.1 347.1h0M240.8 349.5h0M245.7 355.5h0M143.8 214.9h0M147.4 219.5h0M152.2 225.1h0M155.1 229.3h0M157.2 232.3h0M160 236.6h0M167.8 246.1h0M172.3 252.4h0M174.7 256.3h0M177.2 258.7h0M182.2 266.4h0M190.5 275.7h0M197.5 285.5h0M199.9 289.6h0M206.2 297.2h0M208.2 301.7h0M210.7 303.3h0M212.7 306.7h0M215.5 310.2h0M218.1 314.3h0M221.5 317.8h0M226.1 324.5h0M228.3 328.4h0M235.8 337h0M243 348.1h0M147.8 215.1h0M153.5 222.3h0M155.1 224.3h0M160.7 231.4h0M162.7 235.2h0M166.4 237.3h0M168.4 240.6h0M169.9 245.3h0M173.1 248.5h0M178 254.6h0M182.7 262.4h0M185.8 265.8h0M187.4 269.1h0M192.3 271h0M204.6 289.1h0M209.1 294.3h0M218.7 308.5h0M221.8 312.6h0M224.8 315.5h0M229.3 322.9h0M234.6 328h0M236.1 332.4h0M240.2 335.3h0M241.8 339.2h0M244.7 341.1h0M249.7 348.8h0" stroke="#dc8e5e" stroke-width="1.4" stroke-linecap="round" opacity="0.8"/>
</g>
<!-- boxes -->
<polygon points="317.5,125.1 343.1,125.1 343.1,195.7 317.5,195.7" fill="#d9e2f2"/>
<polygon points="317.5,125.1 343.1,125.1 390.4,78.1 364.5,78.1" fill="#dfe5f3"/>
<polygon points="343.1,125.1 390.4,78.1 390.4,148.7 343.1,195.7" fill="#adb4c4"/>
<polygon points="318.1,259.4 344.2,259.4 344.2,327.7 318.1,327.7" fill="#fae5d8"/>
<polygon points="318.1,259.4 344.2,259.4 392.1,211 366.5,211" fill="#fbe8dc"/>
<polygon points="344.2,259.4 392.1,211 392.1,280.2 344.2,327.7" fill="#c8b8ac"/>
<!-- encoder / decoder -->
<rect x="553.5" y="13" width="74" height="339" rx="13" fill="#d5dbe5"/>
<rect x="701.5" y="13" width="74" height="339" rx="13" fill="#fbe5d9"/>
<text transform="translate(601.3 317.4) rotate(-90)" font-size="30.8">3D Position Encoder</text>
<text transform="translate(751.5 316.7) rotate(-90)" font-size="30.8" xml:space="preserve">Transformer  Decoder</text>
<!-- arrows -->
<path d="M233 130.8L301.80 130.80M393 131.6L543.00 131.60M237.5 260.3L305.80 260.30M392 260.3L539.50 260.87M629 133.7L693.50 133.70M629 263L693.50 263.00M775.6 187.3L832.60 187.30M665.2 434.3H738.3V360.6" stroke="#000" stroke-width="3" fill="none"/>
<path d="M309.3 130.8L300.30 135.30L300.30 126.30zM550.5 131.6L541.50 136.10L541.50 127.10zM313.3 260.3L304.30 264.80L304.30 255.80zM547 260.9L537.98 265.37L538.02 256.37zM701 133.7L692.00 138.20L692.00 129.20zM701 263L692.00 267.50L692.00 258.50zM840.1 187.3L831.10 191.80L831.10 182.80zM738.3 353.1L742.8 362.1L733.8 362.1z" fill="#000"/>
<!-- labels -->
<text transform="translate(379.2 195.6) scale(0.99 1.055)" font-size="28">2D Features</text>
<text transform="translate(374.8 332.2) scale(0.995 1.05)" font-size="28">3D Coordinates</text>
<text x="632" y="131.8" font-size="28">value</text>
<text x="641.5" y="257.8" font-size="28">key</text>
<text transform="translate(81.2 396.5) scale(1 1.055)" font-size="28" xml:space="preserve">t  Frame</text>
<text x="22.7" y="468.3" font-size="31">Multi-view images</text>
<text x="63.8" y="505.5" font-size="31">&amp; 3D points</text>
<text x="512.8" y="498.4" font-size="31">Lane queries</text>
<!-- lane queries bars -->
<g id="bars" stroke="#a3d48c" stroke-width="1.2" stroke-linejoin="round">
<g>
<polygon points="530.3,398.5 542.7,409.3 502.4,453.5 490.5,444.2" fill="#dcedd2"/>
<polygon points="542.7,409.3 542.7,417.9 503.2,462 502.4,453.5" fill="#e6f3df"/>
<polygon points="490.5,444.2 502.4,453.5 503.2,462 490.8,452" fill="#c9cfc5"/>
</g>
<g transform="translate(42 1)">
<polygon points="530.3,398.5 542.7,409.3 502.4,453.5 490.5,444.2" fill="#dcedd2"/>
<polygon points="542.7,409.3 542.7,417.9 503.2,462 502.4,453.5" fill="#e6f3df"/>
<polygon points="490.5,444.2 502.4,453.5 503.2,462 490.8,452" fill="#c9cfc5"/>
</g>
<g transform="translate(134 1.5)">
<polygon points="530.3,398.5 542.7,409.3 502.4,453.5 490.5,444.2" fill="#dcedd2"/>
<polygon points="542.7,409.3 542.7,417.9 503.2,462 502.4,453.5" fill="#e6f3df"/>
<polygon points="490.5,444.2 502.4,453.5 503.2,462 490.8,452" fill="#c9cfc5"/>
</g>
</g>
<g fill="#000"><ellipse cx="582" cy="439.3" rx="3.7" ry="2.8"/><ellipse cx="601" cy="439.3" rx="3.2" ry="2.8"/><ellipse cx="620.5" cy="439.3" rx="3.3" ry="2.8"/></g>
<!-- map -->
<rect x="849.5" y="87.1" width="203.4" height="277.2" fill="#01449c"/>
<g stroke="#c3d1ea" stroke-width="1.3" fill="none" stroke-linecap="round">
<path d="M905.5 96.6L905.6 132.6L906.5 257.8L907.1 364M918.6 96.6V133L920 257.8L920.3 364M931 96.6V133.8M932 257.8L932.4 364M943.2 96L943.3 135.2L944 257.8L944.5 364M956.3 96L956.4 136.7L956.8 257.8L957.3 364"/>
<path d="M862.6 185L869.4 183.6L910 184L991.3 183.9L1048.3 183.5M862.6 209.2L868.4 209.2L991.3 199.2L1048.8 198.3"/>
<path d="M905.6 132.6Q905.6 183.6 869.4 183.6"/>
<path d="M956.4 136.7Q956.4 183.9 991.3 183.9"/>
<path d="M868.4 209.2Q906.5 209.2 906.5 257.8"/>
<path d="M991.3 199.2Q956.8 199.2 956.8 257.8"/>
<path d="M869.4 183.6Q932 188 932 257.8"/>
<path d="M931 133.8Q931 199.2 991.3 199.2"/>
<path d="M943.3 135.2Q943.3 209.2 868.4 209.2"/>
<path d="M991.3 183.9Q920 190 920 257.8"/>
</g>
<g fill="#c3d1ea">
<ellipse cx="905.5" cy="96.6" rx="2.1" ry="2.4"/><ellipse cx="918.6" cy="96.6" rx="2.1" ry="2.4"/><ellipse cx="931" cy="96.6" rx="2.1" ry="2.4"/>
<ellipse cx="905.6" cy="132.6" rx="2.1" ry="2.4"/><ellipse cx="918.6" cy="133" rx="2.1" ry="2.4"/><ellipse cx="931" cy="133.8" rx="2.1" ry="2.4"/><ellipse cx="943.3" cy="135.2" rx="2.1" ry="2.4"/><ellipse cx="956.4" cy="136.7" rx="2.1" ry="2.4"/>
<ellipse cx="869.4" cy="183.6" rx="2.1" ry="2.4"/><ellipse cx="991.3" cy="183.9" rx="2.1" ry="2.4"/><ellipse cx="1048.3" cy="183.5" rx="2.1" ry="2.4"/>
<ellipse cx="862.6" cy="209.2" rx="2.1" ry="2.4"/><ellipse cx="868.4" cy="209.2" rx="2.1" ry="2.4"/><ellipse cx="991.3" cy="199.2" rx="2.1" ry="2.4"/>
<ellipse cx="906.5" cy="257.8" rx="2.1" ry="2.4"/><ellipse cx="920" cy="257.8" rx="2.1" ry="2.4"/><ellipse cx="932" cy="257.8" rx="2.1" ry="2.4"/><ellipse cx="944" cy="257.8" rx="2.1" ry="2.4"/><ellipse cx="956.8" cy="257.8" rx="2.1" ry="2.4"/>
</g>
</svg>
</body></html>
